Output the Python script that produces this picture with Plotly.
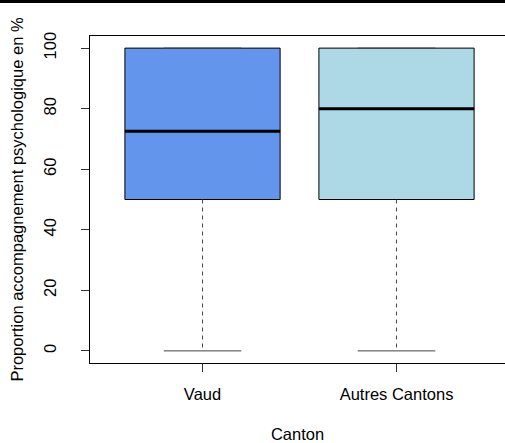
import plotly.graph_objects as go

# data
cantons = ["Vaud", "Autres Cantons"]
positions = [1, 2]
q1 = [50, 50]
median = [72.5, 80]
q3 = [100, 100]
whisker_low = [0, 0]
whisker_high = [100, 100]
fill_colors = ["#6495ED", "#ADD8E6"]  # cornflowerblue, lightblue
y_ticks = [0, 20, 40, 60, 80, 100]

BOX_W = 0.8
STAPLE_W = 0.4
FONT = "Liberation Sans, Arial, Helvetica, sans-serif"
FS = 16.5
WHISK = "#444444"


def seg(x, y, color, width, dash="solid"):
    return go.Scatter(
        x=x, y=y, mode="lines",
        line=dict(color=color, width=width, dash=dash),
        hoverinfo="skip", showlegend=False,
    )


fig = go.Figure()
for i, name in enumerate(cantons):
    x = positions[i]
    fig.add_trace(seg([x, x], [q1[i], whisker_low[i]], WHISK, 1, "4px,4px"))
    fig.add_trace(go.Box(
        x=[x], q1=[q1[i]], median=[median[i]], q3=[q3[i]],
        lowerfence=[q1[i]], upperfence=[q3[i]],
        width=BOX_W, whiskerwidth=0,
        fillcolor=fill_colors[i],
        line=dict(color="black", width=1),
        name=name, hoverinfo="skip", showlegend=False,
    ))
    fig.add_trace(seg([x, x], [q3[i], whisker_high[i]], WHISK, 1, "4px,4px"))
    for w in (whisker_low[i], whisker_high[i]):
        fig.add_trace(seg([x - STAPLE_W / 2, x + STAPLE_W / 2], [w, w], WHISK, 1))
    fig.add_trace(seg([x - BOX_W / 2, x + BOX_W / 2], [median[i], median[i]], "black", 3))

fig.update_layout(
    width=505, height=443,
    margin=dict(l=90, r=0, t=36, b=80),
    plot_bgcolor="white", paper_bgcolor="white",
    font=dict(family=FONT, size=FS, color="black"),
    xaxis=dict(
        range=[0.42, 0.42 + 415 / 194],
        tickvals=positions, ticktext=cantons,
        ticks="outside", ticklen=8, tickcolor="#333",
        ticklabelstandoff=8,
        showline=True, linecolor="black", mirror=True,
        showgrid=False, zeroline=False, automargin=False,
        title=dict(text="Canton", standoff=27, font=dict(size=FS)),
    ),
    yaxis=dict(
        range=[-4, 104],
        tickvals=y_ticks, tickangle=-90,
        ticks="outside", ticklen=8, tickcolor="#333",
        ticklabelstandoff=18,
        showline=True, linecolor="black",
        showgrid=False, zeroline=False, automargin=False,
        title=dict(text="Proportion accompagnement psychologique en %",
                   standoff=13, font=dict(size=FS)),
    ),
    shapes=[dict(
        type="line", xref="paper", yref="paper",
        x0=-90 / 415, x1=1, y0=1 + 34.5 / 327, y1=1 + 34.5 / 327,
        line=dict(color="black", width=3),
    )],
)

# the page's default 8px body margin would shift the whole figure
fig.write_html("out.html", config={"displayModeBar": False},
               post_script="document.body.style.margin = '0';")
